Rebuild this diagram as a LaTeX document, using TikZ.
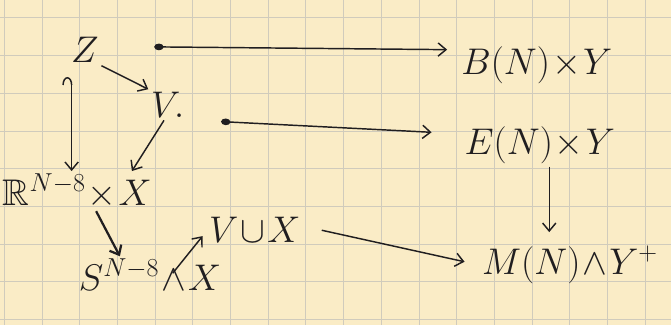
\documentclass[tikz,border=0pt]{standalone}
\usepackage{fix-cm}
\usepackage{amsmath,amssymb}
\usetikzlibrary{positioning,arrows.meta}
\definecolor{paper}{RGB}{250,236,198}
\definecolor{gridline}{RGB}{208,203,188}
\definecolor{ink}{RGB}{32,30,32}
\tikzset{
  obj/.style={text=ink, inner sep=2pt, font=\fontsize{28}{32}\selectfont},
  map/.style={draw=ink, line width=1.1pt, -{Straight Barb[length=6pt,width=10pt]}},
  dotmap/.style={map, {Ellipse[length=7pt,width=5pt]}-{Straight Barb[length=6pt,width=10pt]}},
}

\begin{document}
\begin{tikzpicture}
        \fill[paper] (0,0) rectangle (17.8,8.62);
        \useasboundingbox (0,0) rectangle (17.8,8.62);
        \foreach \i in {0,...,17}{
            \draw[gridline, line width=0.4pt] (\i+0.11,0) -- (\i+0.11,8.62);
          }
        \foreach \j in {0,...,8}{
            \draw[gridline, line width=0.4pt] (0,\j+0.15) -- (17.8,\j+0.15);
          }
        \node[obj] (z) at (2.25,7.29) {$Z$};
        \node[obj] (v) at (4.45,5.84) {$V\!.$};
        \node[obj] (rx) at (2.05,3.55) {$\mathbb{R}^{N-8}\!\times\! X$};
        \node[obj] (sx) at (3.98,1.33) {$S^{N-8}\!\wedge\! X$};
        \node[obj] (vx) at (6.76,2.52) {$V\!\cup\! X$};
        \node[obj] (b) at (14.24,6.9) {$B(N)\!\times\! Y$};
        \node[obj] (e) at (14.32,4.77) {$E(N)\!\times\! Y$};
        \node[obj] (m) at (15.12,1.59) {$M(N)\!\wedge\! Y^+$};
        \draw[map] (z.south east) -- (v.north west);
        \draw[map, {Hooks[left,length=6pt,width=14pt]}-{Straight Barb[length=6pt,width=10pt]}]
          ([xshift=-0.35cm,yshift=-0.3cm]z.south) -- ([xshift=-0.35cm]z.south |- rx.north);
        \draw[map] ([xshift=-0.1cm]v.south) -- ([xshift=-0.6cm]rx.north east);
        \draw[map, line width=1.7pt] ([xshift=0.5cm]rx.south) -- ([xshift=-0.8cm]sx.north);
        \draw[map] ([xshift=0.6cm,yshift=-0.45cm]sx.north) -- ([xshift=-0.1cm,yshift=0.25cm]vx.south west);
        \draw[dotmap, shorten <=1.4cm, shorten >=0.3cm] ([yshift=0.1cm]z.east) -- ([yshift=0.4cm]b.west);
        \draw[dotmap, shorten <=0.9cm, shorten >=0.8cm] ([yshift=-0.4cm]v.east) -- ([yshift=0.3cm]e.west);
        \draw[map, shorten >=0.3cm] ([xshift=0.25cm]e.south) -- ([xshift=0.25cm]e.south |- m.north);
        \draw[map, shorten <=0.5cm, shorten >=0.4cm] ([yshift=0.1cm]vx.east) -- (m.west);
      \end{tikzpicture}
\end{document}
